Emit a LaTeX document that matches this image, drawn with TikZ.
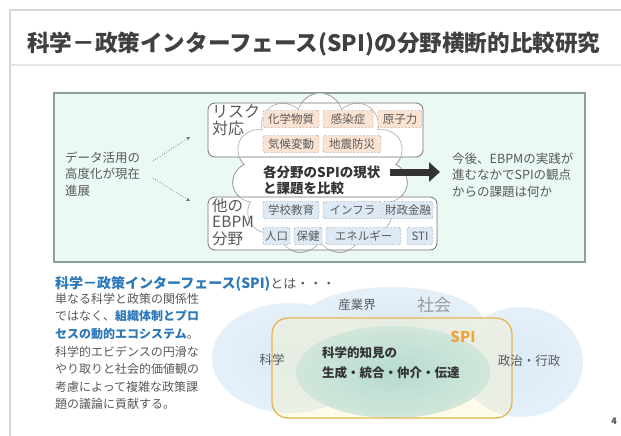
\documentclass[tikz,border=0pt]{standalone}
\usepackage{fontspec}
\setmainfont{Noto Sans CJK JP}
\usetikzlibrary{shapes.symbols,arrows.meta}
\definecolor{txtgray}{HTML}{595959}
\definecolor{titlegray}{HTML}{404040}
\definecolor{mint}{HTML}{EAF9F2}
\definecolor{mintborder}{HTML}{8E9E98}
\definecolor{orgfill}{HTML}{FBE3D2}
\definecolor{orgline}{HTML}{9C8A7E}
\definecolor{bluefill}{HTML}{DDEAF6}
\definecolor{blueline}{HTML}{7D8B98}
\definecolor{spiblue}{HTML}{2C78B8}
\definecolor{spiorange}{HTML}{F2A33A}
\definecolor{spiborder}{HTML}{E5B552}
\definecolor{ellin}{HTML}{DCEBF7}
\definecolor{ellout}{HTML}{EAF3FB}
\definecolor{tealin}{HTML}{9CD3DF}
\definecolor{tealout}{HTML}{D8EFF3}
\definecolor{spifill}{HTML}{FFF1B0}
\pgfdeclareradialshading{blueblob}{\pgfpoint{0bp}{0bp}}{color(0bp)=(ellin); color(40bp)=(ellout); color(50bp)=(ellout)}
\pgfdeclareradialshading{tealblob}{\pgfpoint{0bp}{0bp}}{color(0bp)=(tealin); color(42bp)=(tealout); color(50bp)=(tealout)}
\newcommand\fs[1]{\fontsize{#1}{#1}\selectfont}
\newcommand\mytag[5]{\node[#1, minimum width=#4] (#2) at (#3) {#5};}
\begin{document}
\begin{tikzpicture}[x=1pt,y=-1pt,
  every node/.style={inner sep=0pt, text=txtgray},
  cloudshape/.style={cloud, cloud puffs=11, cloud ignores aspect, minimum width=176pt, minimum height=162pt},
  sidebox/.style={draw=black!55, fill=white, rounded corners=7pt, line width=0.8pt},
  tagA/.style={draw=orgline, fill=orgfill, dash pattern=on 2pt off 1.5pt, rounded corners=2pt, minimum height=17pt, font=\fs{11.5}},
  tagB/.style={draw=blueline, fill=bluefill, dash pattern=on 2pt off 1.5pt, rounded corners=2pt, minimum height=17pt, font=\fs{11.5}},
  dotarrow/.style={dotted, black!60, line width=0.7pt, -{Stealth[length=4pt,width=3.5pt]}},
  bigarrow/.style={line width=7pt, black!80, -{Triangle[length=11pt,width=19pt]}}
]
\useasboundingbox (0,0) rectangle (621,436);
\fill[white] (0,0) rectangle (621,436);
% slide frame
\draw[black!16, line width=1.2pt] (10,436) -- (10,10) -- (621,10);
\draw[black!10, line width=2pt] (10,65) -- (621,65);
\node[anchor=west, font=\fs{22.6}\bfseries, text=titlegray] (title) at (27,44) {科学－政策インターフェース(SPI)の分野横断的比較研究};
% panel
\node[draw=mintborder, fill=mint, line width=1.1pt, minimum width=531pt, minimum height=169pt] (panel) at (319.5,177.5) {};
% cloud
\node[cloudshape, draw=black!45, fill=white, line width=0.6pt] (cloud) at (320,174) {};
\node[sidebox, minimum width=215pt, minimum height=54pt] (risk) at (315.5,130) {};
\node[sidebox, minimum width=229pt, minimum height=53pt] (other) at (322.5,223.5) {};
\node[cloudshape, draw=black!35, line width=0.6pt] (cloudedge) at (320,174) {};
% tags
\mytag{tagA}{t1}{291,119}{56pt}{化学物質}
\mytag{tagA}{t2}{348,119}{50pt}{感染症}
\mytag{tagA}{t3}{400,119}{44pt}{原子力}
\mytag{tagA}{t4}{291,144}{56pt}{気候変動}
\mytag{tagA}{t5}{352,144}{58pt}{地震防災}
\mytag{tagB}{u1}{291,210}{56pt}{学校教育}
\mytag{tagB}{u2}{352.5,210}{59pt}{インフラ}
\mytag{tagB}{u3}{408,210}{50pt}{財政金融}
\mytag{tagB}{u4}{276.5,236}{27pt}{人口}
\mytag{tagB}{u5}{308,236}{28pt}{保健}
\mytag{tagB}{u6}{363.5,236}{75pt}{エネルギー}
\mytag{tagB}{u7}{420,236}{26pt}{STI}
% labels
\node[anchor=north west, align=left, font=\fontsize{16}{17}\selectfont] (risklbl) at (212,104) {リスク\\対応};
\node[anchor=north west, align=left, font=\fontsize{15.5}{16.5}\selectfont] (otherlbl) at (212,198) {他の\\EBPM\\分野};
\node[anchor=west, align=left, font=\fontsize{13.5}{16}\selectfont\bfseries, text=black!80] (cmp) at (263,180) {各分野のSPIの現状\\と課題を比較};
\node[anchor=west, align=left, font=\fontsize{12.5}{16.5}\selectfont] (data) at (65,174) {データ活用の\\高度化が現在\\進展};
\node[anchor=west, align=left, font=\fontsize{12.5}{16.5}\selectfont] (q) at (452,175) {今後、EBPMの実践が\\進むなかでSPIの観点\\からの課題は何か};
\coordinate (d1s) at (153,161);
\coordinate (d1e) at (190,137);
\coordinate (d2s) at (153,178);
\coordinate (d2e) at (190,201);
\draw[dotarrow] (d1s) -- (d1e);
\draw[dotarrow] (d2s) -- (d2e);
\coordinate (arrS) at (390,172);
\coordinate (arrE) at (440,172);
\draw[bigarrow] (arrS) -- (arrE);
% lower text
\node[anchor=west, font=\fs{14}\bfseries, text=spiblue] (head) at (55,284) {科学－政策インターフェース(SPI)\textcolor{txtgray}{\mdseries\fs{13}とは・・・}};
\node[anchor=north west, align=left, font=\fontsize{12}{17.6}\selectfont] (para) at (55,293) {単なる科学と政策の関係性\\ではなく、\textbf{\textcolor{spiblue}{組織体制とプロ}}\\\textbf{\textcolor{spiblue}{セスの動的エコシステム}}。\\科学的エビデンスの円滑な\\やり取りと社会的価値観の\\考慮によって複雑な政策課\\題の議論に貢献する。};
% venn
\shade[shading=blueblob] (392,322) ellipse [x radius=91pt, y radius=35pt];
\shade[shading=blueblob] (290,358) ellipse [x radius=78pt, y radius=55pt];
\shade[shading=blueblob] (521,362) ellipse [x radius=62pt, y radius=55pt];
\shade[shading=tealblob] (393,372) ellipse [x radius=97pt, y radius=46pt];
\node[draw=spiborder, fill=spifill, fill opacity=0.28, line width=1.3pt, rounded corners=16pt, minimum width=240pt, minimum height=100pt] (spi) at (392,368) {};
\node[font=\fs{12.5}] (ind) at (357,305) {産業界};
\node[font=\fs{17}, text=black!40] (soc) at (434,305) {社会};
\node[font=\fs{12.5}] (sci) at (272,360) {科学};
\node[font=\fs{12.5}] (pol) at (529,361) {政治・行政};
\node[font=\fs{15}\bfseries, text=spiorange] (spilbl) at (463,337) {SPI};
\node[anchor=north west, align=left, font=\fontsize{12.5}{20}\selectfont\bfseries, text=black!80] (know) at (322,347) {科学的知見の\\生成・統合・仲介・伝達};
\node[font=\fs{9}\bfseries, text=black!70] (page) at (614,421) {4};
\end{tikzpicture}
\end{document}
